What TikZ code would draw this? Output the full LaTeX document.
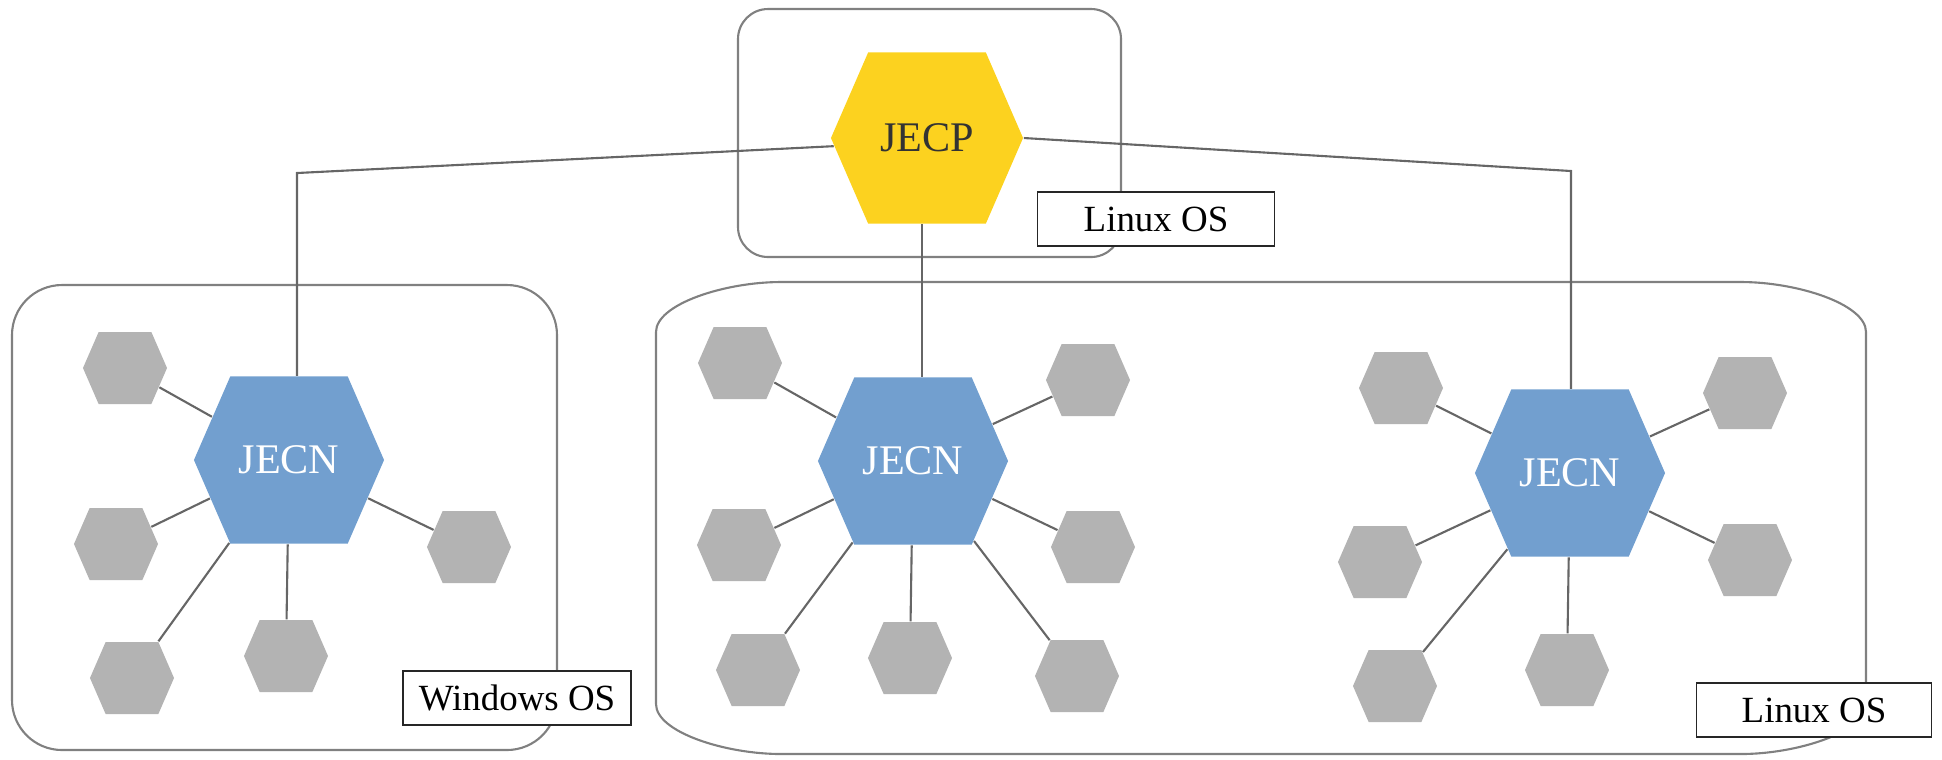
\documentclass[tikz,border=0pt]{standalone}
\usepackage{fontspec}
\setmainfont{Liberation Serif}
\usetikzlibrary{shapes.symbols}

\definecolor{jecpyellow}{HTML}{FCD21F}
\definecolor{jecnblue}{HTML}{729FCF}
\definecolor{leafgray}{HTML}{B3B3B3}

\tikzstyle{hexa} = [signal, signal to=east and west, signal pointer angle=133,
    inner sep=0pt, draw=none]
\tikzstyle{hub} = [hexa, minimum width=1.9cm, minimum height=1.67cm,
    font=\fontsize{12}{14}\selectfont]
\tikzstyle{leaf} = [hexa, fill=leafgray, minimum width=0.84cm, minimum height=0.72cm]
\tikzstyle{osbox} = [draw=black!85, fill=white, rectangle,
    minimum height=0.54cm, minimum width=2.35cm, font=\fontsize{10.5}{12}\selectfont]
\tikzstyle{link} = [draw=black!60, line width=0.6pt]
\tikzstyle{host} = [draw=black!50, line width=0.6pt]

\begin{document}
\begin{tikzpicture}[x=0.01cm, y=-0.01cm]
          \useasboundingbox (0,0) rectangle (1942,759);

          % hosts
          \draw[host, rounded corners=0.3cm] (738,9) rectangle (1121,257);
          \draw[host, rounded corners=0.5cm] (12,285) rectangle (557,750);
          \draw[host] (656,332) .. controls (656,304) and (725,282) .. (781,282)
              -- (1741,282) .. controls (1797,282) and (1866,304) .. (1866,332)
              -- (1866,704) .. controls (1866,732) and (1797,754) .. (1741,754)
              -- (781,754) .. controls (725,754) and (656,732) .. (656,704) -- cycle;

          % control plane and nodes
          \node (jecp) [hub, fill=jecpyellow, text=black!80, minimum width=1.92cm,
              minimum height=1.71cm] at (927,138) {JECP};
          \node (jecnw) [hub, fill=jecnblue, text=white] at (289,460) {JECN};
          \node (jecna) [hub, fill=jecnblue, text=white] at (913,461) {JECN};
          \node (jecnb) [hub, fill=jecnblue, text=white] at (1570,473) {JECN};

          % edge devices
          \node (w1) [leaf] at (125,368) {};
          \node (w2) [leaf] at (116,544) {};
          \node (w3) [leaf] at (132,678) {};
          \node (w4) [leaf] at (286,656) {};
          \node (w5) [leaf] at (469,547) {};

          \node (a1) [leaf] at (740,363) {};
          \node (a2) [leaf] at (739,545) {};
          \node (a3) [leaf] at (758,670) {};
          \node (a4) [leaf] at (910,658) {};
          \node (a5) [leaf] at (1077,676) {};
          \node (a6) [leaf] at (1093,547) {};
          \node (a7) [leaf] at (1088,380) {};

          \node (b1) [leaf] at (1401,388) {};
          \node (b2) [leaf] at (1380,562) {};
          \node (b3) [leaf] at (1395,686) {};
          \node (b4) [leaf] at (1567,670) {};
          \node (b5) [leaf] at (1750,560) {};
          \node (b6) [leaf] at (1745,393) {};

          \foreach \i in {1,...,5} \draw[link] (jecnw) -- (w\i);
          \foreach \i in {1,...,7} \draw[link] (jecna) -- (a\i);
          \foreach \i in {1,...,6} \draw[link] (jecnb) -- (b\i);

          % uplinks
          \coordinate (cl) at (297,173);
          \coordinate (cr) at (1571,171);
          \draw[link] (jecp.185) -- (cl) -- (cl |- jecnw.north);
          \draw[link] ([xshift=-0.05cm]jecp.south) -- ([xshift=-0.05cm]jecp.south |- jecna.north);
          \draw[link] (jecp.east) -- (cr) -- (cr |- jecnb.north);

          % os labels
          \node (ostop) [osbox, minimum width=2.37cm] at (1156,219) {Linux OS};
          \node (oswin) [osbox, minimum width=2.28cm] at (517,698) {Windows OS};
          \node (osbot) [osbox] at (1814,710) {Linux OS};
        \end{tikzpicture}
\end{document}
